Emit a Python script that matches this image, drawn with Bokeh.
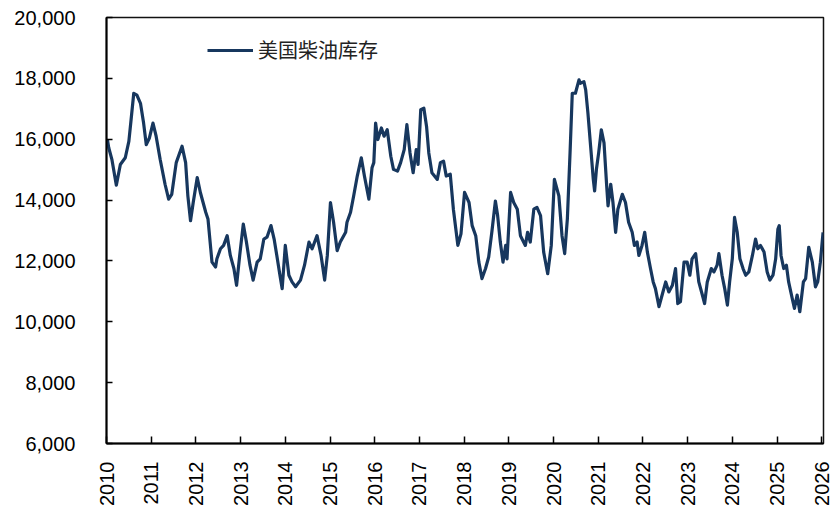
import math
from bokeh.plotting import figure
from bokeh.models import FixedTicker, NumeralTickFormatter, Legend, LegendItem, ColumnDataSource, Range1d
from bokeh.embed import file_html
from bokeh.resources import INLINE

years = [
    2010.02, 2010.05, 2010.12, 2010.22, 2010.31, 2010.42, 2010.50, 2010.55, 2010.61, 2010.68,
    2010.76, 2010.83, 2010.89, 2010.96, 2011.04, 2011.11, 2011.20, 2011.31, 2011.39, 2011.46,
    2011.56, 2011.69, 2011.77, 2011.82, 2011.88, 2011.94, 2012.03, 2012.10, 2012.22, 2012.27,
    2012.36, 2012.44, 2012.47, 2012.55, 2012.62, 2012.70, 2012.77, 2012.85, 2012.91, 2012.98,
    2013.06, 2013.13, 2013.21, 2013.28, 2013.37, 2013.44, 2013.52, 2013.59, 2013.68, 2013.75,
    2013.81, 2013.88, 2013.93, 2014.00, 2014.08, 2014.15, 2014.23, 2014.34, 2014.43, 2014.53,
    2014.60, 2014.71, 2014.80, 2014.88, 2014.94, 2015.01, 2015.08, 2015.16, 2015.23, 2015.35,
    2015.38, 2015.46, 2015.53, 2015.61, 2015.70, 2015.77, 2015.87, 2015.94, 2015.98, 2016.02,
    2016.07, 2016.15, 2016.21, 2016.28, 2016.36, 2016.42, 2016.51, 2016.58, 2016.66, 2016.72,
    2016.79, 2016.86, 2016.93, 2016.97, 2017.03, 2017.10, 2017.16, 2017.21, 2017.28, 2017.40,
    2017.47, 2017.54, 2017.60, 2017.69, 2017.76, 2017.86, 2017.93, 2018.01, 2018.11, 2018.18,
    2018.26, 2018.33, 2018.40, 2018.48, 2018.55, 2018.62, 2018.70, 2018.75, 2018.81, 2018.87,
    2018.93, 2018.96, 2019.04, 2019.11, 2019.19, 2019.26, 2019.37, 2019.42, 2019.48, 2019.56,
    2019.63, 2019.71, 2019.78, 2019.87, 2019.95, 2020.02, 2020.12, 2020.19, 2020.25, 2020.31,
    2020.37, 2020.42, 2020.49, 2020.57, 2020.60, 2020.68, 2020.72, 2020.77, 2020.83, 2020.89,
    2020.92, 2020.96, 2021.01, 2021.07, 2021.13, 2021.19, 2021.22, 2021.28, 2021.33, 2021.39,
    2021.44, 2021.54, 2021.61, 2021.68, 2021.76, 2021.81, 2021.87, 2021.91, 2021.98, 2022.04,
    2022.10, 2022.17, 2022.23, 2022.28, 2022.36, 2022.43, 2022.51, 2022.58, 2022.66, 2022.73,
    2022.78, 2022.84, 2022.92, 2022.99, 2023.05, 2023.10, 2023.18, 2023.25, 2023.33, 2023.38,
    2023.44, 2023.53, 2023.59, 2023.66, 2023.70, 2023.77, 2023.83, 2023.89, 2023.94, 2024.00,
    2024.05, 2024.11, 2024.17, 2024.24, 2024.30, 2024.37, 2024.45, 2024.52, 2024.57, 2024.63,
    2024.71, 2024.78, 2024.84, 2024.91, 2024.97, 2025.02, 2025.05, 2025.09, 2025.15, 2025.21,
    2025.26, 2025.34, 2025.39, 2025.45, 2025.51, 2025.59, 2025.64, 2025.71, 2025.79, 2025.86,
    2025.91, 2025.97, 2026.03,
]

inventory = [
    15990, 15720, 15340, 14490, 15170, 15390, 15930, 16640, 17510, 17450,
    17180, 16530, 15820, 16040, 16530, 16100, 15340, 14520, 14030, 14190,
    15230, 15770, 15230, 14140, 13320, 13920, 14740, 14250, 13600, 13380,
    11960, 11800, 12070, 12400, 12510, 12830, 12180, 11750, 11200, 12180,
    13210, 12620, 11860, 11370, 11960, 12070, 12720, 12780, 13160, 12720,
    12180, 11530, 11090, 12510, 11530, 11310, 11150, 11370, 11860, 12620,
    12400, 12830, 12180, 11370, 12180, 13920, 13270, 12340, 12620, 12940,
    13270, 13600, 14140, 14790, 15390, 14790, 14030, 15060, 15230, 16530,
    15990, 16370, 16100, 16310, 15440, 15010, 14950, 15230, 15660, 16480,
    15550, 14900, 15660, 15170, 16970, 17020, 16420, 15550, 14900, 14680,
    15230, 15280, 14790, 14850, 13700, 12510, 12890, 14250, 13920, 13160,
    12830, 11960, 11420, 11750, 12130, 12940, 13970, 13490, 12620, 11960,
    12510, 12070, 14250, 13920, 13700, 12830, 12510, 12940, 12620, 13700,
    13760, 13490, 12290, 11580, 12510, 14680, 14140, 12830, 12240, 13380,
    15550, 17510, 17510, 17950, 17840, 17890, 17620, 16860, 15770, 14680,
    14300, 15010, 15550, 16310, 15880, 14460, 13810, 14520, 13920, 12940,
    13700, 14190, 13920, 13270, 12940, 12510, 12620, 12180, 12510, 12940,
    12290, 11750, 11310, 11090, 10500, 10880, 11310, 10980, 11200, 11750,
    10600, 10660, 11960, 11960, 11530, 12070, 12240, 11310, 10880, 10600,
    11310, 11750, 11640, 11860, 12240, 11530, 11090, 10550, 11310, 12070,
    13430, 12940, 12070, 11750, 11530, 11640, 12180, 12720, 12400, 12510,
    12290, 11640, 11370, 11530, 12070, 13050, 13160, 12180, 11750, 11860,
    11310, 10770, 10440, 10880, 10330, 11310, 11420, 12450, 11960, 11150,
    11310, 11960, 12940,
]

series_name = "美国柴油库存"
y_ticks = [6000, 8000, 10000, 12000, 14000, 16000, 18000, 20000]
x_ticks = list(range(2010, 2027))

LINE_COLOR = "#17375e"
TICK_FONT = "Liberation Sans"

p = figure(
    width=832, height=508,
    output_backend="svg", toolbar_location=None,
    x_range=Range1d(2010, 2026.04), y_range=Range1d(6000, 20000),
    min_border_left=106, min_border_right=9, min_border_top=17, min_border_bottom=62,
)
p.background_fill_color = "white"
p.border_fill_color = "white"
p.outline_line_color = "#111111"
p.outline_line_width = 1.5
p.xgrid.visible = False
p.ygrid.visible = False

src = ColumnDataSource(dict(x=years, y=inventory))
r = p.line("x", "y", source=src, line_color=LINE_COLOR, line_width=3.2, line_join="round")

# Y axis
ya = p.yaxis[0]
ya.ticker = FixedTicker(ticks=y_ticks)
ya.formatter = NumeralTickFormatter(format="0,0")
ya.major_tick_in = 6
ya.major_tick_out = 0
ya.minor_tick_in = 0
ya.minor_tick_out = 0
ya.axis_line_width = 2
ya.axis_line_color = "black"
ya.major_tick_line_color = "black"
ya.major_tick_line_width = 1.5
ya.major_label_text_font = TICK_FONT
ya.major_label_text_font_size = "20px"
ya.major_label_text_color = "black"
ya.major_label_standoff = 31

# X axis
xa = p.xaxis[0]
xa.ticker = FixedTicker(ticks=x_ticks)
xa.formatter = NumeralTickFormatter(format="0")
xa.major_tick_in = 7
xa.major_tick_out = 0
xa.minor_tick_in = 0
xa.minor_tick_out = 0
xa.axis_line_width = 2
xa.axis_line_color = "black"
xa.major_tick_line_color = "black"
xa.major_tick_line_width = 1.5
xa.major_label_text_font = TICK_FONT
xa.major_label_text_font_size = "20px"
xa.major_label_text_color = "black"
xa.major_label_orientation = math.pi / 2
xa.major_label_standoff = 18

legend = Legend(
    items=[LegendItem(label=series_name, renderers=[r])],
    location=(101, 379),
    orientation="vertical",
    label_text_font="Noto Sans CJK SC",
    label_text_font_size="20px",
    label_text_color="#222222",
    glyph_width=46,
    glyph_height=20,
    label_standoff=5,
    padding=0,
    margin=0,
    spacing=0,
    border_line_alpha=0,
    background_fill_alpha=0,
)
p.add_layout(legend, "center")

open("out.html", "w").write(file_html(p, INLINE))
